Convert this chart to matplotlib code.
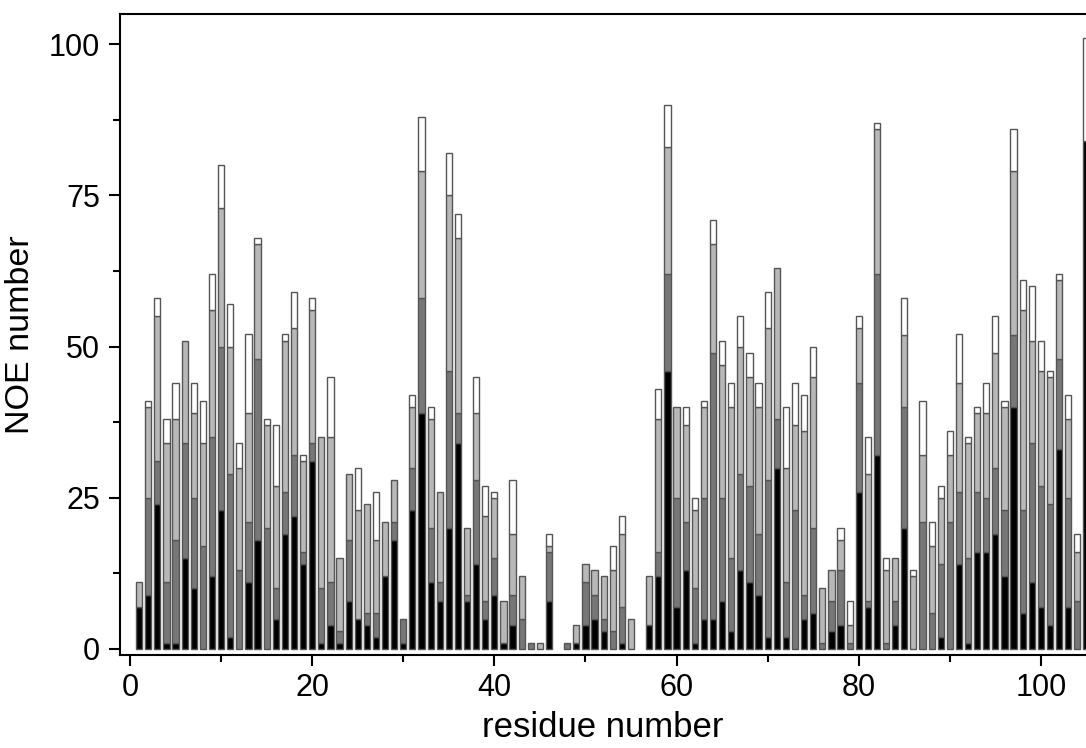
import matplotlib
matplotlib.use("Agg")
import matplotlib.pyplot as plt
from matplotlib.ticker import MultipleLocator
import numpy as np

residues = list(range(1, 106))

# NOE counts per residue for the four categories (stacked bottom to top)
black = [7, 9, 24, 1, 1, 15, 10, 0, 12, 23, 2, 0, 11, 18, 0, 5, 19, 22, 14, 31,
         1, 4, 1, 8, 5, 4, 2, 12, 18, 1, 23, 39, 11, 8, 20, 34, 8, 14, 5, 9,
         1, 4, 0, 0, 0, 8, 0, 0, 1, 4, 5, 3, 0, 1, 0, 0, 4, 12, 46, 7,
         13, 1, 5, 5, 8, 3, 13, 11, 9, 2, 30, 2, 0, 5, 6, 0, 3, 4, 0, 26,
         7, 32, 0, 4, 20, 0, 0, 0, 2, 0, 14, 1, 16, 16, 19, 12, 40, 6, 11, 7,
         4, 33, 7, 0, 84]
dark = [0, 16, 7, 10, 17, 19, 15, 17, 23, 27, 27, 13, 10, 30, 20, 5, 7, 10, 2, 3,
        9, 7, 2, 10, 0, 2, 4, 0, 3, 4, 7, 19, 9, 3, 26, 5, 1, 14, 3, 6,
        0, 5, 5, 1, 0, 8, 0, 1, 0, 7, 4, 2, 3, 6, 0, 0, 0, 4, 16, 18,
        8, 9, 20, 44, 17, 12, 16, 16, 10, 26, 8, 9, 23, 4, 14, 1, 5, 9, 1, 18,
        1, 30, 1, 4, 20, 0, 21, 6, 12, 21, 12, 14, 10, 9, 11, 11, 12, 17, 23, 20,
        20, 15, 18, 8, 0]
light = [4, 15, 24, 23, 20, 17, 14, 17, 21, 23, 21, 17, 18, 19, 17, 17, 25, 21, 15, 22,
         25, 24, 12, 11, 18, 18, 12, 9, 7, 0, 10, 21, 18, 15, 29, 29, 11, 11, 14, 10,
         7, 10, 7, 0, 1, 1, 0, 0, 3, 3, 4, 7, 10, 12, 5, 0, 8, 22, 21, 15,
         16, 13, 15, 18, 22, 25, 21, 18, 21, 25, 25, 19, 14, 27, 25, 9, 5, 5, 3, 9,
         21, 24, 12, 7, 12, 12, 11, 11, 11, 11, 18, 19, 13, 14, 19, 17, 27, 33, 17, 19,
         21, 13, 13, 8, 0]
white = [0, 1, 3, 4, 6, 0, 5, 7, 6, 7, 7, 4, 13, 1, 1, 10, 1, 6, 1, 2,
         0, 10, 0, 0, 7, 0, 8, 0, 0, 0, 2, 9, 2, 0, 7, 4, 0, 6, 5, 1,
         0, 9, 0, 0, 0, 2, 0, 0, 0, 0, 0, 0, 4, 3, 0, 0, 0, 5, 7, 0,
         3, 2, 1, 4, 4, 4, 5, 4, 4, 6, 0, 10, 7, 6, 5, 0, 0, 2, 4, 2,
         6, 1, 2, 0, 6, 1, 9, 4, 2, 4, 8, 1, 1, 5, 6, 1, 7, 5, 9, 5,
         1, 1, 4, 3, 17]

series = [black, dark, light, white]
colors = ["#000000", "#777777", "#b8b8b8", "#ffffff"]

plt.rcParams['font.family'] = ['Liberation Sans', 'DejaVu Sans']

fig = plt.figure(figsize=(10.86, 7.48), dpi=100)
ax = fig.add_axes([120/1086, 1 - 655/748, 1 - 120/1086, (655 - 14)/748])

x = np.array(residues, dtype=float)
bottom = np.zeros(len(residues))
for vals, col in zip(series, colors):
    v = np.array(vals, dtype=float)
    m = v > 0
    ax.bar(x[m], v[m], bottom=bottom[m], width=0.68, color=col,
           edgecolor="#555555", linewidth=1.0, zorder=2)
    bottom += v

ax.set_xlim(-1.1, 104.95)
ax.set_ylim(-1.0, 105.0)

ax.xaxis.set_major_locator(MultipleLocator(20))
ax.xaxis.set_minor_locator(MultipleLocator(10))
ax.yaxis.set_major_locator(MultipleLocator(25))
ax.yaxis.set_minor_locator(MultipleLocator(12.5))

ax.tick_params(which='major', direction='out', length=8, width=1.5, labelsize=22,
               top=False, right=False)
ax.tick_params(axis='y', which='major', pad=6.5)
ax.tick_params(axis='x', which='major', pad=5)
ax.tick_params(which='minor', direction='out', length=5, width=1.5,
               top=False, right=False)

for s in ['left', 'bottom', 'top']:
    ax.spines[s].set_linewidth(1.5)
ax.spines['right'].set_visible(False)

ax.set_xlabel("residue number", fontsize=25, labelpad=6)
ax.set_ylabel("NOE number", fontsize=24.5, labelpad=9)

fig.savefig("out.png", dpi=100)
